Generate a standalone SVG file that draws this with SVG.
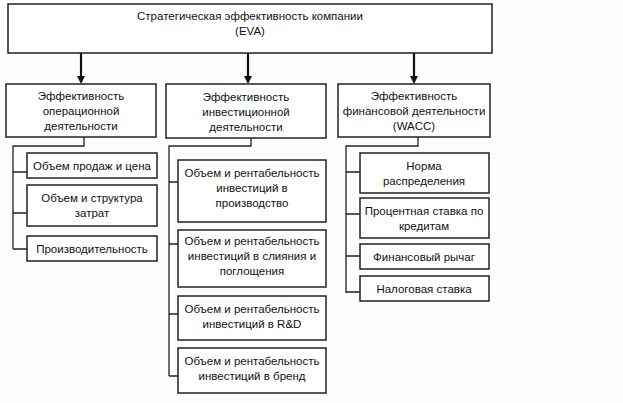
<svg xmlns="http://www.w3.org/2000/svg" width="623" height="403" viewBox="0 0 623 403">
<style>
rect{fill:#fff;stroke:#222;stroke-width:1.5}
text{font-family:"Liberation Sans",Arial,sans-serif;font-size:11.5px;fill:#111;text-anchor:middle}
.c{fill:none;stroke:#222;stroke-width:1.3}
.a{fill:none;stroke:#111;stroke-width:2.2}
</style>
<defs><marker id="ar" markerWidth="8" markerHeight="8" refX="6" refY="4" orient="auto" markerUnits="userSpaceOnUse"><path d="M0,0L8,4L0,8z" fill="#111"/></marker></defs>
<rect x="0" y="0" width="623" height="403" style="fill:#fdfdfd;stroke:none"/>
<g id="connectors">
<line class="a" x1="81" y1="53" x2="81" y2="82" marker-end="url(#ar)"/>
<line class="a" x1="248" y1="53" x2="248" y2="82" marker-end="url(#ar)"/>
<line class="a" x1="414" y1="53" x2="414" y2="82" marker-end="url(#ar)"/>
<path class="c" d="M84,137V146H13V249M13,172H27M13,213H27M13,249H27"/>
<path class="c" d="M251,138V146H169V376M169,182H178M169,244H178M169,314H178M169,376H178"/>
<path class="c" d="M418,137V146H346V293M346,172H360M346,214H360M346,256H360M346,292H360"/>
</g>
<g id="top"><rect x="8" y="4" width="484" height="49"/><text x="250" y="20">Стратегическая эффективность компании</text><text x="250" y="35">(EVA)</text></g>
<g id="op"><rect x="6" y="84" width="150" height="53"/><text x="81" y="100">Эффективность</text><text x="81" y="115">операционной</text><text x="81" y="130">деятельности</text></g>
<g id="inv"><rect x="166" y="84" width="160" height="54"/><text x="246" y="101">Эффективность</text><text x="246" y="116">инвестиционной</text><text x="246" y="131">деятельности</text></g>
<g id="fin"><rect x="338" y="84" width="152" height="53"/><text x="414" y="100">Эффективность</text><text x="414" y="115">финансовой деятельности</text><text x="414" y="130">(WACC)</text></g>
<g id="op1"><rect x="27" y="153" width="130" height="25"/><text x="92" y="170">Объем продаж и цена</text></g>
<g id="op2"><rect x="27" y="185" width="130" height="41"/><text x="92" y="202">Объем и структура</text><text x="92" y="217">затрат</text></g>
<g id="op3"><rect x="27" y="236" width="130" height="25"/><text x="92" y="253">Производительность</text></g>
<g id="inv1"><rect x="178" y="160" width="148" height="62"/><text x="252" y="177">Объем и рентабельность</text><text x="252" y="192">инвестиций в</text><text x="252" y="207">производство</text></g>
<g id="inv2"><rect x="178" y="230" width="148" height="57"/><text x="252" y="245">Объем и рентабельность</text><text x="252" y="260">инвестиций в слияния и</text><text x="252" y="275">поглощения</text></g>
<g id="inv3"><rect x="178" y="296" width="148" height="44"/><text x="252" y="313">Объем и рентабельность</text><text x="252" y="328">инвестиций в R&amp;D</text></g>
<g id="inv4"><rect x="178" y="348" width="148" height="45"/><text x="252" y="365">Объем и рентабельность</text><text x="252" y="380">инвестиций в бренд</text></g>
<g id="fin1"><rect x="360" y="153" width="129" height="40"/><text x="424" y="170">Норма</text><text x="424" y="185">распределения</text></g>
<g id="fin2"><rect x="360" y="198" width="129" height="40"/><text x="424" y="215">Процентная ставка по</text><text x="424" y="230">кредитам</text></g>
<g id="fin3"><rect x="360" y="244" width="129" height="25"/><text x="424" y="261">Финансовый рычаг</text></g>
<g id="fin4"><rect x="360" y="276" width="129" height="25"/><text x="424" y="293">Налоговая ставка</text></g>
</svg>
